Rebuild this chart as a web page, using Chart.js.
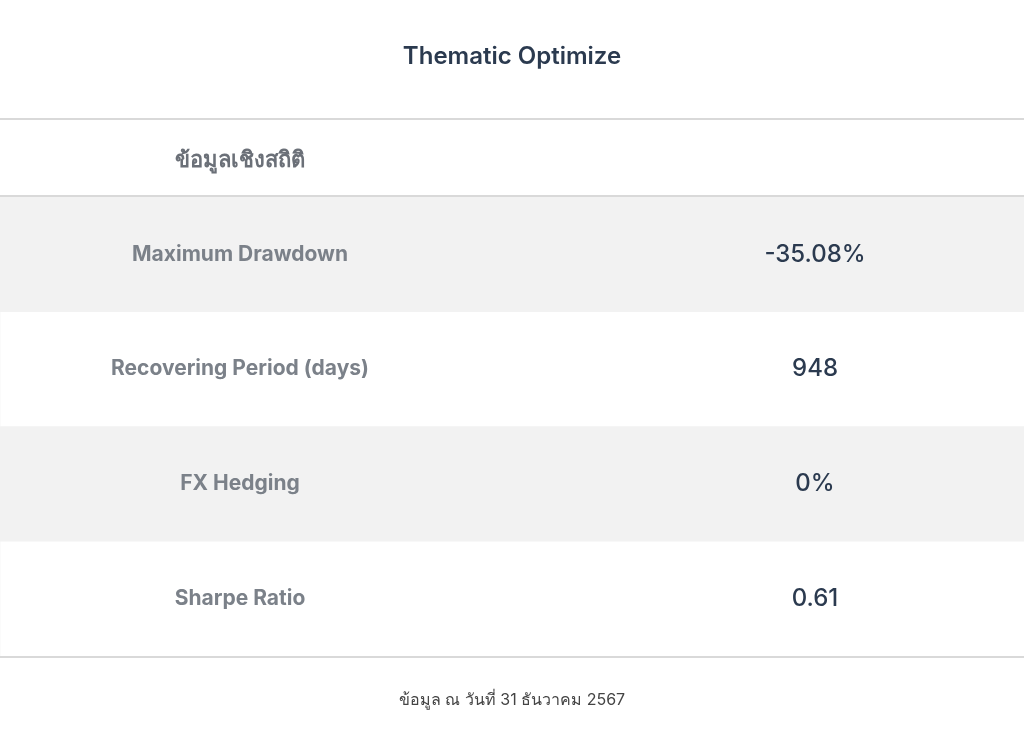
<!DOCTYPE html>
<html>
<head>
<meta charset="utf-8">
<script src="https://cdn.jsdelivr.net/npm/chart.js@4"></script>
<style>
  html, body { margin: 0; padding: 0; background: #fff; }
  #wrap { width: 1024px; height: 744px; position: relative; }
</style>
</head>
<body>
<div id="wrap"><canvas id="tbl"></canvas></div>
<script>
// table content
const title = 'Thematic Optimize';
const header = 'ข้อมูลเชิงสถิติ';
const rowLabels = ['Maximum Drawdown', 'Recovering Period (days)', 'FX Hedging', 'Sharpe Ratio'];
const rowValues = ['-35.08%', '948', '0%', '0.61'];
const stripes = [1, 0, 1, 0]; // shaded rows
const footer = 'ข้อมูล ณ วันที่ 31 ธันวาคม 2567';

const FONT = '"Inter", "Noto Sans", "Noto Sans CJK SC", sans-serif';

// draws title, header, row texts and rules on top of the stripe bars
const tableText = {
  id: 'tableText',
  afterDraw(chart) {
    const ctx = chart.ctx;
    const y = chart.scales.y;
    ctx.save();
    ctx.textAlign = 'center';
    ctx.textBaseline = 'middle';

    ctx.fillStyle = '#2b3a4f';
    ctx.font = '600 24px ' + FONT;
    ctx.fillText(title, 512, 57);

    ctx.fillStyle = '#6b7078';
    ctx.font = 'bold 22px ' + FONT;
    ctx.fillText(header, 240, 160);

    rowLabels.forEach((lab, i) => {
      const cy = y.getPixelForValue(i);
      ctx.fillStyle = '#7b8189';
      ctx.font = 'bold 21px ' + FONT;
      ctx.fillText(lab, 240, cy);
      ctx.fillStyle = '#2b3a4f';
      ctx.font = '500 24px ' + FONT;
      ctx.fillText(rowValues[i], 815, cy);
    });

    ctx.fillStyle = '#444';
    ctx.font = '16px ' + FONT;
    ctx.fillText(footer, 512, 700);

    // horizontal rules
    ctx.strokeStyle = '#d9d9d9';
    ctx.lineWidth = 2;
    [119, y.top - 1, y.bottom + 1].forEach(ly => {
      ctx.beginPath();
      ctx.moveTo(0, ly);
      ctx.lineTo(1024, ly);
      ctx.stroke();
    });
    ctx.restore();
  }
};

new Chart(document.getElementById('tbl').getContext('2d'), {
  type: 'bar',
  data: {
    labels: rowLabels,
    datasets: [{
      data: stripes,
      backgroundColor: '#f2f2f2',
      barPercentage: 1,
      categoryPercentage: 1,
      borderWidth: 0
    }]
  },
  options: {
    indexAxis: 'y',
    responsive: true,
    maintainAspectRatio: false,
    animation: false,
    layout: { padding: { top: 197, bottom: 88, left: 0, right: 0 } },
    scales: {
      x: { display: false, min: 0, max: 1 },
      y: { display: false }
    },
    plugins: {
      legend: { display: false },
      tooltip: { enabled: false }
    }
  },
  plugins: [tableText]
});
</script>
</body>
</html>
